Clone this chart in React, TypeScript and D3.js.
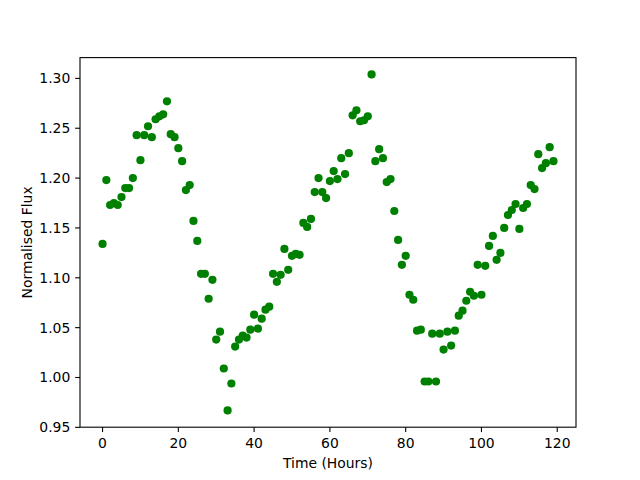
import React from "react";
import * as d3 from "d3";

const hours: number[] = Array.from({ length: 120 }, (_, i) => i);

const flux: number[] = [
  1.134, 1.198, 1.173, 1.175, 1.173, 1.181, 1.190, 1.190, 1.200, 1.243,
  1.218, 1.243, 1.252, 1.241, 1.259, 1.262, 1.264, 1.277, 1.244, 1.241,
  1.230, 1.217, 1.188, 1.193, 1.157, 1.137, 1.104, 1.104, 1.079, 1.098,
  1.038, 1.046, 1.009, 0.967, 0.994, 1.031, 1.038, 1.042, 1.040, 1.048,
  1.063, 1.049, 1.059, 1.068, 1.071, 1.104, 1.096, 1.103, 1.129, 1.108,
  1.122, 1.124, 1.123, 1.155, 1.151, 1.159, 1.186, 1.200, 1.186, 1.180,
  1.197, 1.207, 1.199, 1.220, 1.204, 1.225, 1.263, 1.268, 1.257, 1.258,
  1.262, 1.304, 1.217, 1.229, 1.220, 1.196, 1.199, 1.167, 1.138, 1.113,
  1.122, 1.083, 1.078, 1.047, 1.048, 0.996, 0.996, 1.044, 0.996, 1.044,
  1.028, 1.046, 1.032, 1.047, 1.062, 1.067, 1.077, 1.086, 1.082, 1.113,
  1.083, 1.112, 1.132, 1.142, 1.118, 1.125, 1.150, 1.163, 1.168, 1.174,
  1.149, 1.170, 1.174, 1.193, 1.189, 1.224, 1.210, 1.215, 1.231, 1.217,
];

const xTicks: number[] = [0, 20, 40, 60, 80, 100, 120];
const yTicks: number[] = [0.95, 1.0, 1.05, 1.1, 1.15, 1.2, 1.25, 1.3];
const xLabel = "Time (Hours)";
const yLabel = "Normalised Flux";

const W = 640;
const H = 480;
const left = 80;
const right = 576;
const top = 57.6;
const bottom = 427.2;
const font = "'DejaVu Sans', sans-serif";
const fs = 13.9;

function padded(vals: number[]): [number, number] {
  const mn = d3.min(vals) as number;
  const mx = d3.max(vals) as number;
  const r = mx - mn;
  return [mn - 0.05 * r, mx + 0.05 * r];
}

export default function App() {
  const x = d3.scaleLinear().domain(padded(hours)).range([left, right]);
  const y = d3.scaleLinear().domain(padded(flux)).range([bottom, top]);
  const tickLen = 4.86;
  const sw = 1.1;
  return (
    <svg
      width={W}
      height={H}
      style={{ position: "absolute", left: 0, top: 0, background: "#fff" }}
      fontFamily={font}
    >
      <rect x={0} y={0} width={W} height={H} fill="#fff" />
      <g>
        {hours.map((h, i) => (
          <circle key={i} cx={x(h)} cy={y(flux[i])} r={4.1} fill="#008000" />
        ))}
      </g>
      <rect
        x={left}
        y={top}
        width={right - left}
        height={bottom - top}
        fill="none"
        stroke="#000"
        strokeWidth={sw}
      />
      {xTicks.map((t) => (
        <g key={"x" + t}>
          <line x1={x(t)} x2={x(t)} y1={bottom} y2={bottom + tickLen} stroke="#000" strokeWidth={sw} />
          <text x={x(t)} y={bottom + 20.5} fontSize={fs} textAnchor="middle" fill="#000">
            {t}
          </text>
        </g>
      ))}
      {yTicks.map((t) => (
        <g key={"y" + t}>
          <line x1={left - tickLen} x2={left} y1={y(t)} y2={y(t)} stroke="#000" strokeWidth={sw} />
          <text x={left - 9.7} y={y(t) + 5} fontSize={fs} textAnchor="end" fill="#000">
            {t.toFixed(2)}
          </text>
        </g>
      ))}
      <text x={(left + right) / 2} y={468} fontSize={fs} textAnchor="middle" fill="#000">
        {xLabel}
      </text>
      <text
        transform={`translate(32,${(top + bottom) / 2}) rotate(-90)`}
        fontSize={fs}
        textAnchor="middle"
        fill="#000"
      >
        {yLabel}
      </text>
    </svg>
  );
}
